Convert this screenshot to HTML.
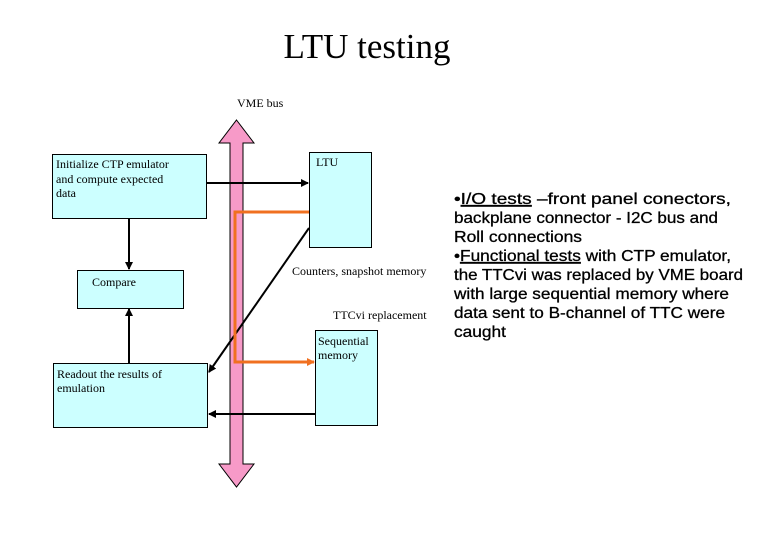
<!DOCTYPE html>
<html><head><meta charset="utf-8"><style>
html,body{margin:0;padding:0;background:#fff;}
svg{display:block;}
</style></head><body>
<svg width="780" height="540" viewBox="0 0 780 540" xmlns="http://www.w3.org/2000/svg">
<defs>
<marker id="ab" markerWidth="8" markerHeight="8" refX="7" refY="4" orient="auto" markerUnits="userSpaceOnUse"><path d="M0,0 L8,4 L0,8 Z" fill="#000"/></marker>
<marker id="ao" markerWidth="8" markerHeight="8" refX="7" refY="4" orient="auto" markerUnits="userSpaceOnUse"><path d="M0,0 L8,4 L0,8 Z" fill="#f07020"/></marker>
</defs>
<text x="367" y="58" font-family="Liberation Serif, serif" font-size="35" text-anchor="middle">LTU testing</text>
<text x="237" y="107" font-family="Liberation Serif, serif" font-size="12">VME bus</text>
<path d="M236.5,120 L254,143 L243,143 L243,464 L254,464 L236.5,487 L219,464 L230,464 L230,143 L219,143 Z" fill="#f79ac8" stroke="#000" stroke-width="1"/>
<rect x="52.5" y="154.5" width="154" height="64" fill="#ccffff" stroke="#000"/>
<rect x="77.5" y="270.5" width="106" height="38" fill="#ccffff" stroke="#000"/>
<rect x="53.5" y="363.5" width="154" height="64" fill="#ccffff" stroke="#000"/>
<rect x="309.5" y="152.5" width="62" height="95" fill="#ccffff" stroke="#000"/>
<rect x="315.5" y="330.5" width="62" height="95" fill="#ccffff" stroke="#000"/>
<g font-family="Liberation Serif, serif" font-size="12" fill="#000">
<text x="56" y="168">Initialize CTP emulator</text>
<text x="56" y="183">and compute expected</text>
<text x="56" y="197">data</text>
<text x="92" y="286">Compare</text>
<text x="57" y="378">Readout the results of</text>
<text x="57" y="392">emulation</text>
<text x="316" y="166">LTU</text>
<text x="318" y="345">Sequential</text>
<text x="318" y="359">memory</text>
<text x="292" y="275">Counters, snapshot memory</text>
<text x="333" y="319">TTCvi replacement</text>
</g>
<g stroke="#000" stroke-width="2" fill="none">
<line x1="207" y1="183" x2="308" y2="183" marker-end="url(#ab)"/>
<line x1="129" y1="219" x2="129" y2="269" marker-end="url(#ab)"/>
<line x1="129" y1="363" x2="129" y2="309" marker-end="url(#ab)"/>
<line x1="309" y1="228" x2="209" y2="372" marker-end="url(#ab)"/>
<line x1="315" y1="414" x2="209" y2="414" marker-end="url(#ab)"/>
</g>
<polyline points="309,212 235,212 235,362 314,362" fill="none" stroke="#f07020" stroke-width="3" marker-end="url(#ao)"/>
<g font-family="Liberation Sans, Arial, sans-serif" font-size="16" fill="#000" stroke="#000" stroke-width="0.3">
<text x="454" y="204" textLength="277" lengthAdjust="spacingAndGlyphs">•<tspan text-decoration="underline">I/O tests</tspan> –front panel conectors,</text>
<text x="454" y="223" textLength="264" lengthAdjust="spacingAndGlyphs">backplane connector - I2C bus and</text>
<text x="454" y="242" textLength="128" lengthAdjust="spacingAndGlyphs">Roll connections</text>
<text x="454" y="261" textLength="277" lengthAdjust="spacingAndGlyphs">•<tspan text-decoration="underline">Functional tests</tspan> with CTP emulator,</text>
<text x="454" y="280" textLength="289" lengthAdjust="spacingAndGlyphs">the TTCvi was replaced by VME board</text>
<text x="454" y="299" textLength="275" lengthAdjust="spacingAndGlyphs">with large sequential memory where</text>
<text x="454" y="318" textLength="271" lengthAdjust="spacingAndGlyphs">data sent to  B-channel of TTC were</text>
<text x="454" y="337" textLength="52" lengthAdjust="spacingAndGlyphs">caught</text>
</g>
</svg>
</body></html>
